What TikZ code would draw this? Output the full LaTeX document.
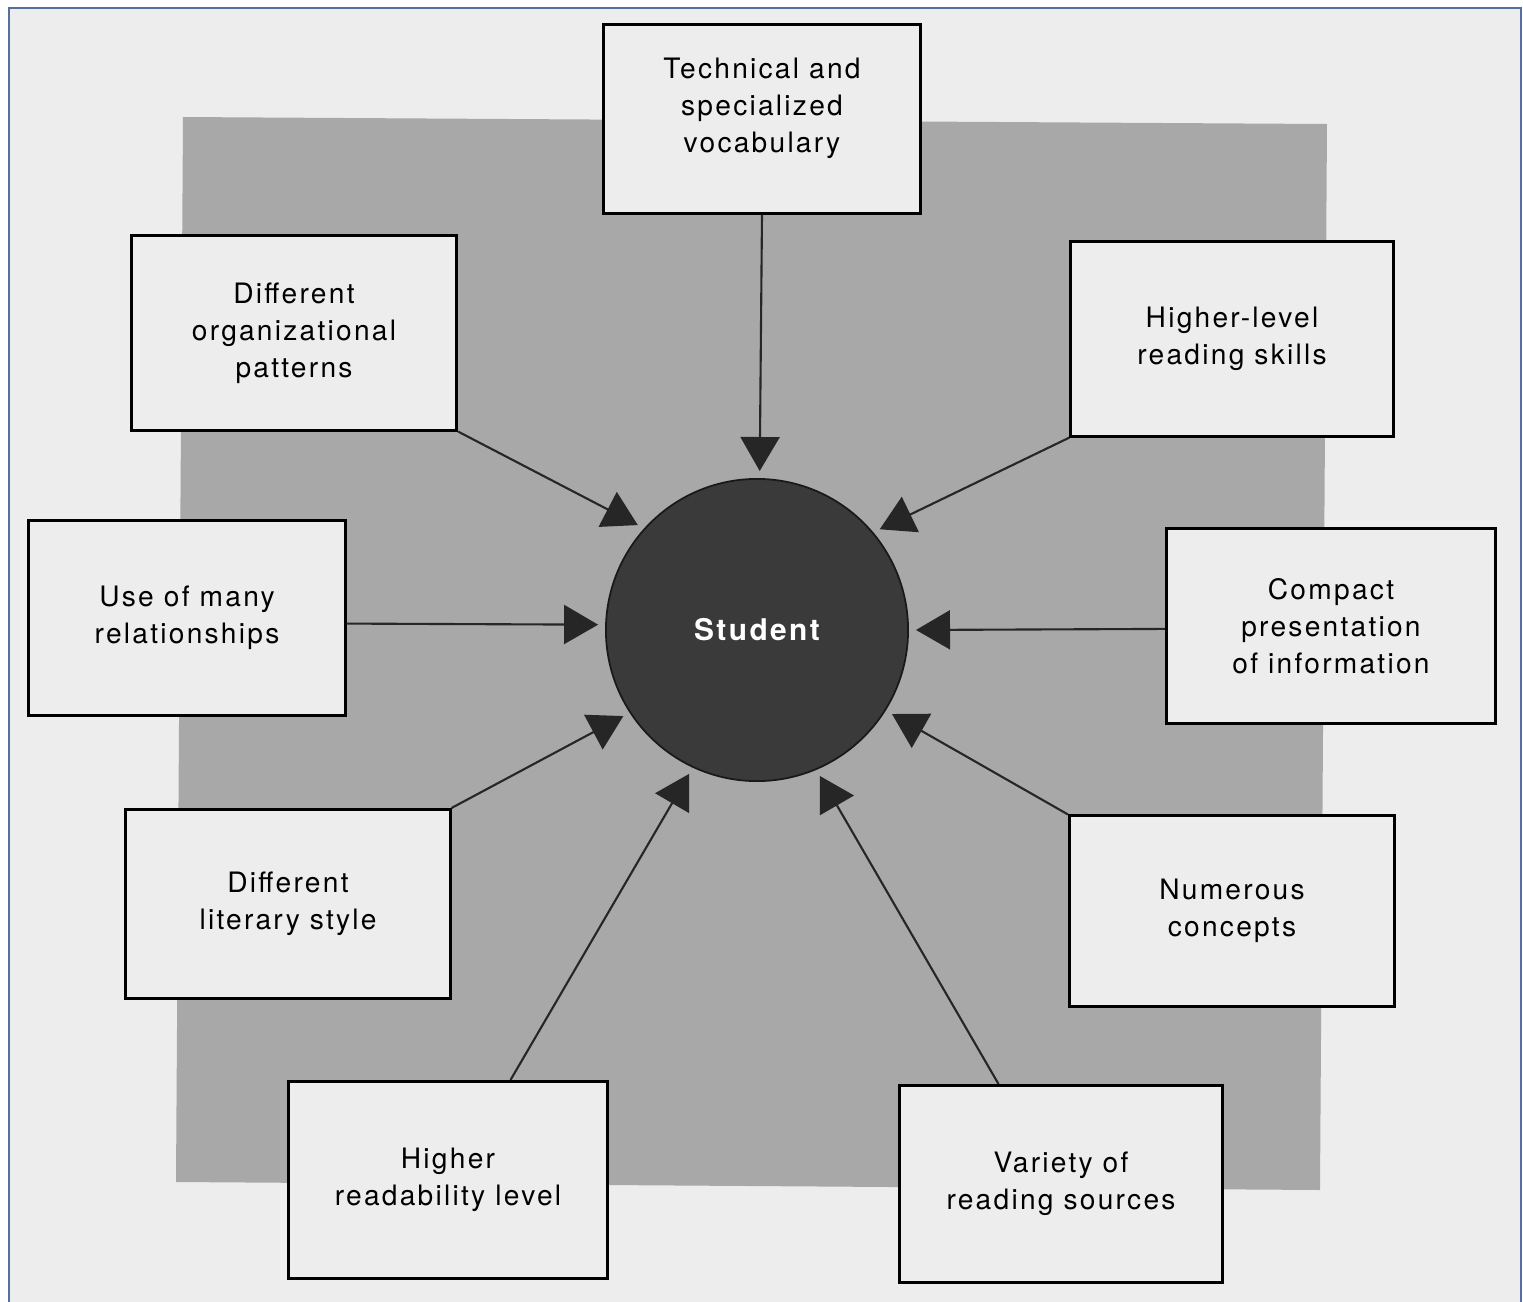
\documentclass[tikz,border=0pt]{standalone}
\usepackage{fontspec}
\setmainfont{TeX Gyre Heros}[LetterSpace=8]
\usepackage{tikz}
\usetikzlibrary{arrows.meta}
\definecolor{paper}{RGB}{237,237,237}
\definecolor{slab}{RGB}{168,168,168}
\definecolor{hubgray}{RGB}{58,58,58}
\definecolor{framecol}{RGB}{84,112,160}

\begin{document}
\begin{tikzpicture}[x=0.01cm,y=-0.01cm,
  box/.style={draw=black,line width=0.85pt,fill=paper,align=center,inner sep=0pt,
    font=\fontsize{8}{10.5}\selectfont},
  hub/.style={circle,fill=hubgray,draw=black!90,line width=0.5pt,minimum size=3.02cm,
    inner sep=0pt,text=white,font=\fontsize{8.5}{10}\selectfont\bfseries},
  feed/.style={line width=0.6pt,draw=black!85,-{Triangle[length=0.34cm,width=0.39cm]},
    shorten >=2pt}]
\useasboundingbox (0,0) rectangle (1523,1302);
\fill[white] (0,0) rectangle (1523,1302);
\draw[framecol,line width=0.4pt,fill=paper] (9,8) rectangle (1521,1320);
\fill[slab] (183,117) -- (1327,124) -- (1320,1190) -- (176,1182) -- cycle;

\node[hub] (student) at (757,630) {Student};

\node[box,minimum width=3.17cm,minimum height=1.88cm,text depth=8pt] (tech) at (762,119) {Technical and\\specialized\\vocabulary};
\node[box,minimum width=3.25cm,minimum height=1.94cm] (org) at (294,333) {Different\\organizational\\patterns};
\node[box,minimum width=3.22cm,minimum height=1.94cm] (skills) at (1232,339) {Higher-level\\reading skills};
\node[box,minimum width=3.16cm,minimum height=1.94cm] (rel) at (187,618) {Use of many\\relationships};
\node[box,minimum width=3.29cm,minimum height=1.94cm] (compact) at (1331,626) {Compact\\presentation\\of information};
\node[box,minimum width=3.24cm,minimum height=1.89cm] (style) at (288,904) {Different\\literary style};
\node[box,minimum width=3.25cm,minimum height=1.90cm] (concepts) at (1232,911) {Numerous\\concepts};
\node[box,minimum width=3.19cm,minimum height=1.97cm] (level) at (448,1180) {Higher\\readability level};
\node[box,minimum width=3.23cm,minimum height=1.97cm] (sources) at (1061,1184) {Variety of\\reading sources};

\draw[feed] (tech.south) -- (student.89);
\draw[feed] (org.south east) -- (student.138.6);
\draw[feed] (skills.south west) -- (student.40.4);
\draw[feed] (rel.-2.9) -- (student.178.5);
\draw[feed] (compact.181.4) -- (student.0.7);
\draw[feed] (style.north east) -- (student.213.7);
\draw[feed] (concepts.north west) -- (student.328.3);
\draw[feed] (level.58.5) -- (student.245.9);
\draw[feed] (sources.122.6) -- (student.293);
\end{tikzpicture}
\end{document}
